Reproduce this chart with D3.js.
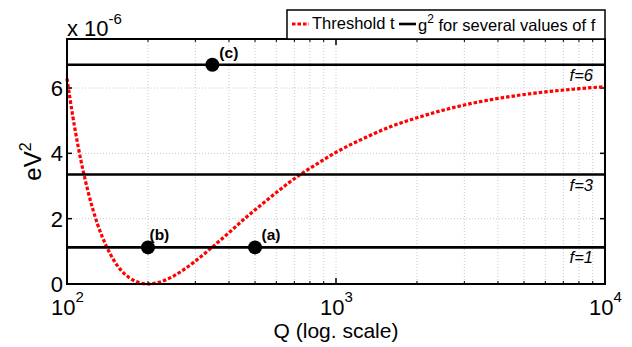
<!DOCTYPE html>
<html>
<head>
<meta charset="utf-8">
<script src="https://cdn.jsdelivr.net/npm/d3@7"></script>
<style>
  body { margin: 0; background: #fff; }
  text { font-family: 'Liberation Sans', Arial, sans-serif; }
</style>
</head>
<body>
<div id="chart"></div>
<script>
// threshold curve (Q, value in 1e-6 eV^2)
const thresholdQ = [100, 105, 110, 115, 120, 130, 140, 150, 160, 170, 180, 190, 200, 215, 230, 250, 275, 300, 340, 400, 460, 530, 600, 730, 800, 1000, 1300, 1600, 2000, 2500, 3000, 4000, 5000, 6000, 8000, 10000];
const thresholdT = [6.29, 5.15, 4.21, 3.44, 2.80, 1.82, 1.16, 0.70, 0.39, 0.20, 0.08, 0.02, 0.0, 0.03, 0.11, 0.25, 0.47, 0.70, 1.07, 1.57, 2.02, 2.44, 2.80, 3.33, 3.54, 4.03, 4.50, 4.82, 5.09, 5.32, 5.48, 5.68, 5.80, 5.88, 5.98, 6.04];

// g^2 levels for f = 1, 3, 6
const fValues = [1, 3, 6];
const gLevels = [1.12, 3.35, 6.71];

// marked points
const markLabels = ['(a)', '(b)', '(c)'];
const markQ = [500, 200, 347];
const markT = [1.12, 1.12, 6.71];

const yTicks = [0, 2, 4, 6];
const xMajor = [100, 1000, 10000];
const xExp = ['2', '3', '4'];

const W = 632, H = 347;
const margin = { top: 39, left: 67, right: 27, bottom: 63 };
const width = W - margin.left - margin.right;
const height = H - margin.top - margin.bottom;

const svg = d3.select('#chart').append('svg').attr('width', W).attr('height', H);

const x = d3.scaleLog().domain([100, 10000]).range([0, width]);
const y = d3.scaleLinear().domain([0, 7.5]).range([height, 0]);

const g = svg.append('g').attr('transform', `translate(${margin.left},${margin.top})`);

// minor log positions
const xMinor = [];
[100, 1000].forEach(d => { for (let k = 2; k <= 9; k++) xMinor.push(d * k); });

// grid (dotted)
const grid = g.append('g').attr('stroke', '#c8c8c8').attr('stroke-width', 1).attr('stroke-dasharray', '1,2');
grid.selectAll('.gx').data(xMinor.concat([1000])).enter().append('line')
  .attr('x1', d => x(d)).attr('x2', d => x(d)).attr('y1', 0).attr('y2', height);
grid.selectAll('.gy').data(yTicks.slice(1)).enter().append('line')
  .attr('x1', 0).attr('x2', width).attr('y1', d => y(d)).attr('y2', d => y(d));

// ticks, inside, on all four sides
const ticks = g.append('g').attr('stroke', '#000').attr('stroke-width', 1);
xMinor.forEach(d => {
  ticks.append('line').attr('x1', x(d)).attr('x2', x(d)).attr('y1', height).attr('y2', height - 3);
  ticks.append('line').attr('x1', x(d)).attr('x2', x(d)).attr('y1', 0).attr('y2', 3);
});
xMajor.forEach(d => {
  ticks.append('line').attr('x1', x(d)).attr('x2', x(d)).attr('y1', height).attr('y2', height - 6).attr('stroke-width', 1.5);
  ticks.append('line').attr('x1', x(d)).attr('x2', x(d)).attr('y1', 0).attr('y2', 6).attr('stroke-width', 1.5);
});
yTicks.forEach(d => {
  ticks.append('line').attr('x1', 0).attr('x2', 5).attr('y1', y(d)).attr('y2', y(d)).attr('stroke-width', 1.5);
  ticks.append('line').attr('x1', width).attr('x2', width - 5).attr('y1', y(d)).attr('y2', y(d)).attr('stroke-width', 1.5);
});

// threshold curve
const thrData = thresholdQ.map((q, i) => ({ q, t: thresholdT[i] }));
const line = d3.line().x(d => x(d.q)).y(d => y(d.t)).curve(d3.curveMonotoneX);
g.append('path')
  .datum(thrData)
  .attr('d', line)
  .attr('fill', 'none')
  .attr('stroke', '#ff0000')
  .attr('stroke-width', 3.2)
  .attr('stroke-dasharray', '3.5,2');

// g^2 lines
g.selectAll('.lvl').data(gLevels).enter().append('line')
  .attr('x1', 0).attr('x2', width)
  .attr('y1', d => y(d)).attr('y2', d => y(d))
  .attr('stroke', '#000').attr('stroke-width', 2.6);

g.selectAll('.flab').data(fValues).enter().append('text')
  .attr('x', width - 12)
  .attr('y', (d, i) => y(gLevels[i]) + 16)
  .attr('text-anchor', 'end')
  .attr('font-style', 'italic')
  .attr('font-size', 16.5)
  .text(d => 'f=' + d);

// marked points
const labDx = [6.5, 1.5, 7];
markQ.forEach((q, i) => {
  g.append('circle').attr('cx', x(q)).attr('cy', y(markT[i])).attr('r', 7).attr('fill', '#000');
  g.append('text')
    .attr('x', x(q) + labDx[i]).attr('y', y(markT[i]) - 7)
    .attr('font-family', 'DejaVu Sans').attr('font-weight', 'bold').attr('font-size', 15.5)
    .text(markLabels[i]);
});

// axes box
g.append('rect').attr('width', width).attr('height', height)
  .attr('fill', 'none').attr('stroke', '#000').attr('stroke-width', 2);

// y tick labels
g.selectAll('.yl').data(yTicks).enter().append('text')
  .attr('x', -4).attr('y', d => y(d)).attr('dy', '0.36em')
  .attr('text-anchor', 'end').attr('font-size', 22)
  .text(d => d);

// x tick labels 10^n
xMajor.forEach((d, i) => {
  const t = g.append('text').attr('x', x(d) - 16).attr('y', height + 31).attr('font-size', 22);
  t.append('tspan').text('10');
  t.append('tspan').attr('dy', -13).attr('font-size', 15).text(xExp[i]);
});

// exponent note
const ex = svg.append('text').attr('x', margin.left).attr('y', 36).attr('font-size', 22);
ex.append('tspan').text('x 10');
ex.append('tspan').attr('dy', -12).attr('font-size', 15).text('-6');

// axis labels
svg.append('text').attr('x', margin.left + width / 2).attr('y', 338)
  .attr('text-anchor', 'middle').attr('font-size', 21).text('Q (log. scale)');
const yl = svg.append('text')
  .attr('transform', `translate(41,${margin.top + height / 2}) rotate(-90)`)
  .attr('text-anchor', 'middle').attr('font-size', 24);
yl.append('tspan').text('eV');
yl.append('tspan').attr('dy', -10).attr('font-size', 16).text('2');

// legend
const lg = svg.append('g').attr('transform', 'translate(287,10)');
lg.append('rect').attr('width', 318).attr('height', 29).attr('fill', '#fff')
  .attr('stroke', '#000').attr('stroke-width', 1.5);
lg.append('line').attr('x1', 5).attr('x2', 22).attr('y1', 14).attr('y2', 14)
  .attr('stroke', '#ff0000').attr('stroke-width', 3.2).attr('stroke-dasharray', '3.5,2');
lg.append('text').attr('x', 25).attr('y', 19).attr('font-size', 16.5).text('Threshold t');
lg.append('line').attr('x1', 112).attr('x2', 129).attr('y1', 14).attr('y2', 14)
  .attr('stroke', '#000').attr('stroke-width', 2.6);
const lt = lg.append('text').attr('x', 131).attr('y', 21).attr('font-size', 16.5);
lt.append('tspan').text('g');
lt.append('tspan').attr('dy', -8).attr('font-size', 12).text('2');
lt.append('tspan').attr('dy', 8).text(' for several values of f');
</script>
</body>
</html>
